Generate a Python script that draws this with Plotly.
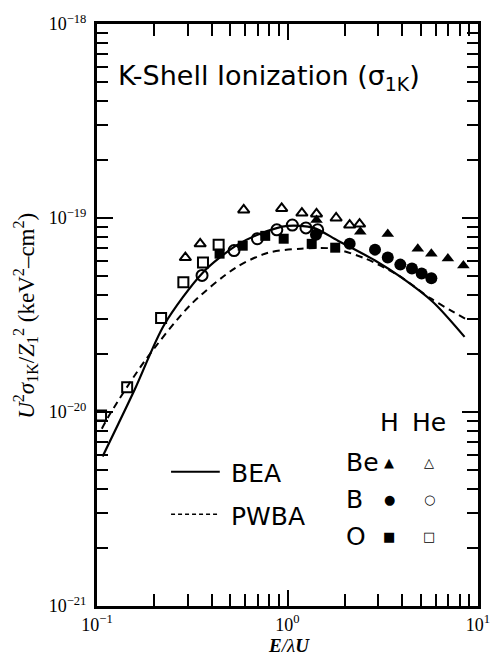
import plotly.graph_objects as go

# Theoretical curves: E/λU vs U²σ1K/Z1²
bea_x = [0.107, 0.158, 0.225, 0.36, 0.537, 0.72, 1.0, 1.37, 1.84, 2.88, 3.96, 5.82, 8.5]
bea_y = [5.9e-21, 1.31e-20, 2.81e-20, 5.24e-20, 7.2e-20, 8.3e-20, 9.1e-20, 8.9e-20,
         7.64e-20, 6.04e-20, 4.94e-20, 3.68e-20, 2.44e-20]

pwba_x = [0.106, 0.118, 0.178, 0.309, 0.537, 0.79, 1.18, 1.74, 2.56, 3.82, 5.62, 7.11, 8.8]
pwba_y = [8.2e-21, 9.9e-21, 1.83e-20, 3.56e-20, 5.56e-20, 6.62e-20, 6.95e-20, 6.95e-20,
          6.18e-20, 5.06e-20, 3.86e-20, 3.36e-20, 2.98e-20]

# Measured cross sections: H (filled) and He (open) projectiles on Be, B, O
h_be_x = [1.42, 2.41, 3.36, 4.83, 5.69, 6.95, 8.38]
h_be_y = [9.77e-20, 8.49e-20, 8.28e-20, 6.95e-20, 6.55e-20, 6.18e-20, 5.69e-20]
he_be_x = [0.291, 0.348, 0.589, 0.932, 1.19, 1.42, 1.80, 2.12, 2.39]
he_be_y = [6.25e-20, 7.36e-20, 1.10e-19, 1.12e-19, 1.06e-19, 1.05e-19, 1.0e-19, 9.2e-20, 9.3e-20]

h_b_x = [1.41, 2.12, 2.88, 3.36, 3.91, 4.50, 5.06, 5.69]
h_b_y = [8.19e-20, 7.36e-20, 6.87e-20, 6.25e-20, 5.75e-20, 5.49e-20, 5.18e-20, 4.89e-20]
he_b_x = [0.356, 0.524, 0.695, 0.879, 1.06, 1.25, 1.44]
he_b_y = [5.06e-20, 6.79e-20, 7.82e-20, 8.69e-20, 9.2e-20, 8.89e-20, 8.69e-20]

h_o_x = [0.440, 0.582, 0.764, 0.955, 1.34, 1.78]
h_o_y = [6.55e-20, 7.2e-20, 8.09e-20, 7.82e-20, 7.36e-20, 7.03e-20]
he_o_x = [0.105, 0.144, 0.217, 0.284, 0.360, 0.435]
he_o_y = [9.6e-21, 1.34e-20, 3.05e-20, 4.66e-20, 5.89e-20, 7.28e-20]

# Axis decades and their labels
x_decades = [0.1, 1, 10]
x_labels = ["10<sup>−1</sup>", "10<sup>0</sup>", "10<sup>1</sup>"]
y_decades = [1e-21, 1e-20, 1e-19, 1e-18]
y_labels = ["10<sup>−21</sup>", "10<sup>−20</sup>", "10<sup>−19</sup>", "10<sup>−18</sup>"]
mantissas = [2, 3, 4, 5, 6, 7, 8, 9]

# Custom key
curve_labels = ["BEA", "PWBA"]
projectiles = ["H", "He"]
targets = ["Be", "B", "O"]
key_symbols = [["▲", "△"], ["●", "○"], ["■", "□"]]

W, H = 502, 662
L, R, T, B = 97, 14, 16, 56
PW, PH = W - L - R, H - T - B


def px(x):
    return (x - L) / PW


def py(y):
    return (H - B - y) / PH


fig = go.Figure()

fig.add_trace(go.Scatter(x=bea_x, y=bea_y, mode="lines",
                         line=dict(color="black", width=2.2, shape="spline", smoothing=0.8), name="BEA"))
fig.add_trace(go.Scatter(x=pwba_x, y=pwba_y, mode="lines",
                         line=dict(color="black", width=2, dash="7px,5px", shape="spline", smoothing=0.8),
                         name="PWBA"))

open_line = dict(color="black", width=2)
fig.add_trace(go.Scatter(x=he_be_x, y=he_be_y, mode="markers",
                         marker=dict(symbol="triangle-up-open", size=10, color="black", line=open_line)))
fig.add_trace(go.Scatter(x=h_be_x, y=h_be_y, mode="markers",
                         marker=dict(symbol="triangle-up", size=11, color="black")))
fig.add_trace(go.Scatter(x=he_b_x, y=he_b_y, mode="markers",
                         marker=dict(symbol="circle-open", size=11, color="black", line=open_line)))
fig.add_trace(go.Scatter(x=h_b_x, y=h_b_y, mode="markers",
                         marker=dict(symbol="circle", size=12, color="black")))
fig.add_trace(go.Scatter(x=he_o_x, y=he_o_y, mode="markers",
                         marker=dict(symbol="square-open", size=10, color="black", line=open_line)))
fig.add_trace(go.Scatter(x=h_o_x, y=h_o_y, mode="markers",
                         marker=dict(symbol="square", size=10, color="black")))

sans = "DejaVu Sans"
serif = "Liberation Serif"
annotations = []

# Title inside the frame
annotations.append(dict(x=px(117), y=py(70), xref="paper", yref="paper", xanchor="left", yanchor="middle",
                        showarrow=False, text="K-Shell Ionization (σ<sub>1K</sub>)",
                        font=dict(family=sans, size=27, color="black")))

# Curve key
for i, lab in enumerate(curve_labels):
    yk = [472, 515][i]
    annotations.append(dict(x=px(232), y=py(yk), xref="paper", yref="paper", xanchor="left",
                            yanchor="middle", showarrow=False, text=lab,
                            font=dict(family=sans, size=25, color="black")))
shapes = [
    dict(type="line", xref="paper", yref="paper", x0=px(173), x1=px(223), y0=py(470), y1=py(470),
         line=dict(color="black", width=2)),
    dict(type="line", xref="paper", yref="paper", x0=px(173), x1=px(223), y0=py(513), y1=py(513),
         line=dict(color="black", width=1.5, dash="4px,3px")),
]

# Symbol key: projectile columns, target rows
col_x = [397, 438]
for j, p in enumerate(projectiles):
    annotations.append(dict(x=px(col_x[j]), y=py(420), xref="paper", yref="paper", xanchor="center",
                            yanchor="middle", showarrow=False, text=p,
                            font=dict(family=sans, size=25, color="black")))
row_y = [461, 498, 536]
for i, t in enumerate(targets):
    annotations.append(dict(x=px(350), y=py(row_y[i]), xref="paper", yref="paper", xanchor="left",
                            yanchor="middle", showarrow=False, text=t,
                            font=dict(family=sans, size=25, color="black")))
    for j in range(2):
        annotations.append(dict(x=px(col_x[j]), y=py(row_y[i]), xref="paper", yref="paper",
                                xanchor="center", yanchor="middle", showarrow=False, text=key_symbols[i][j],
                                font=dict(family="DejaVu Sans", size=13, color="black")))

# Axis titles
annotations.append(dict(x=px(24), y=py(312), xref="paper", yref="paper", xanchor="center", yanchor="middle",
                        showarrow=False, textangle=-90,
                        text="<i>U</i><sup>2</sup><i>σ</i><sub>1K</sub>/<i>Z</i><sub>1</sub><sup>2</sup> (keV<sup>2</sup>–cm<sup>2</sup>)",
                        font=dict(family=serif, size=23, color="black")))
annotations.append(dict(x=px(294), y=py(646), xref="paper", yref="paper", xanchor="center", yanchor="middle",
                        showarrow=False, text="<i><b>E</b>/λ<b>U</b></i>",
                        font=dict(family=serif, size=19, color="black")))


def minor_vals(decades):
    return [m * d for d in decades[:-1] for m in mantissas]


axis_common = dict(type="log", showline=True, linecolor="black", linewidth=3, mirror="ticks",
                   ticks="inside", ticklen=16, tickwidth=2, tickcolor="black", tickmode="array",
                   showgrid=False, zeroline=False,
                   tickfont=dict(family=serif, size=18, color="black"))

fig.update_xaxes(range=[-1, 1], tickvals=x_decades, ticktext=x_labels,
                 minor=dict(ticks="inside", ticklen=12, tickwidth=1.6, tickcolor="black",
                            tickmode="array", tickvals=minor_vals(x_decades), showgrid=False),
                 **axis_common)
fig.update_yaxes(range=[-21, -18], tickvals=y_decades, ticktext=y_labels, ticklabelstandoff=4,
                 minor=dict(ticks="inside", ticklen=11, tickwidth=1.6, tickcolor="black",
                            tickmode="array", tickvals=minor_vals(y_decades), showgrid=False),
                 **axis_common)

fig.update_layout(width=W, height=H, margin=dict(l=L, r=R, t=T, b=B), showlegend=False,
                  plot_bgcolor="white", paper_bgcolor="white",
                  annotations=annotations, shapes=shapes)

fig.write_html("out.html")
